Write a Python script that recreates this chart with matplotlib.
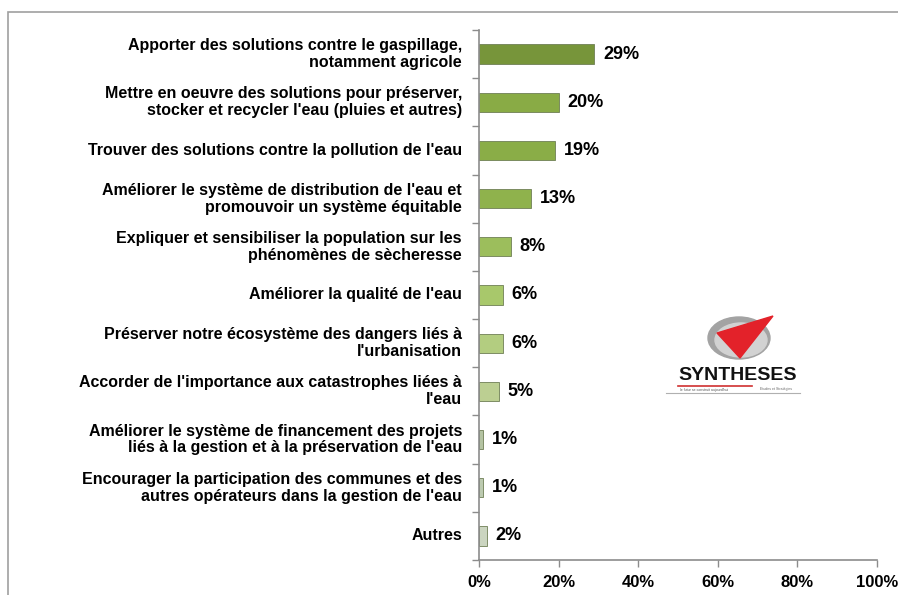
import numpy as np
import matplotlib.pyplot as plt
from matplotlib.patches import Rectangle, Ellipse, Polygon

# data
labels = [
    "Apporter des solutions contre le gaspillage,\nnotamment agricole",
    "Mettre en oeuvre des solutions pour préserver,\nstocker et recycler l'eau (pluies et autres)",
    "Trouver des solutions contre la pollution de l'eau",
    "Améliorer le système de distribution de l'eau et\npromouvoir un système équitable",
    "Expliquer et sensibiliser la population sur les\nphénomènes de sècheresse",
    "Améliorer la qualité de l'eau",
    "Préserver notre écosystème des dangers liés à\nl'urbanisation",
    "Accorder de l'importance aux catastrophes liées à\nl'eau",
    "Améliorer le système de financement des projets\nliés à la gestion et à la préservation de l'eau",
    "Encourager la participation des communes et des\nautres opérateurs dans la gestion de l'eau",
    "Autres",
]
values = [29, 20, 19, 13, 8, 6, 6, 5, 1, 1, 2]
colors = ["#77953a", "#89ab45", "#8aad47", "#8fb24c", "#9cbe5c", "#a8c86b",
          "#b3cd80", "#bccf92", "#b4c3a2", "#bccab0", "#cbd5c0"]
xticks = [0, 20, 40, 60, 80, 100]

plt.rcParams['font.family'] = ['Liberation Sans', 'DejaVu Sans']

fig = plt.figure(figsize=(8.98, 5.95), dpi=100)
ax = fig.add_axes([479/898, 1-560/595, 398/898, 530/595])

y = np.arange(len(values))
ax.barh(y, values, height=0.4, color=colors, edgecolor="#6f7f55", linewidth=0.6)
for yi, v in zip(y, values):
    ax.text(v + 2.2, yi, f"{v}%", va="center", ha="left", fontsize=13,
            fontweight="bold")

ax.set_ylim(len(values) - 0.5, -0.5)
ax.set_xlim(0, 100)
ax.set_xticks(xticks)
ax.set_xticklabels([f"{t}%" for t in xticks], fontsize=12, fontweight="bold")
ax.set_yticks(np.arange(len(values) + 1) - 0.5)
ax.set_yticklabels([])
ax.tick_params(axis="y", length=5, width=1, color="#8c8c8c", direction="out")
ax.tick_params(axis="x", length=5, width=1, color="#8c8c8c", direction="out", pad=6)
for s in ["top", "right"]:
    ax.spines[s].set_visible(False)
for s in ["left", "bottom"]:
    ax.spines[s].set_color("#8c8c8c")
    ax.spines[s].set_linewidth(1.2)

for yi, lab in zip(y, labels):
    ax.text(-4.3, yi, lab, ha="right", va="center", fontsize=11.5,
            fontweight="bold", linespacing=1.15, clip_on=False)

# outer frame
fig.add_artist(Rectangle((8/898, -0.1), 1.2, 1 - 12/595 + 0.1,
                         transform=fig.transFigure, fill=False,
                         edgecolor="#a0a0a0", linewidth=1.2))

# logo
lax = fig.add_axes([660/898, 1-400/595, 150/898, 100/595])
lax.set_xlim(660, 810)
lax.set_ylim(400, 300)
lax.axis("off")
lax.add_patch(Ellipse((739, 338), 62, 42, color="#a3a3a3"))
lax.add_patch(Ellipse((741, 340), 52, 34, color="#d2d2d2"))
lax.add_patch(Polygon([(717, 333), (773, 316), (740, 358)], color="#e3222a"))
lax.text(738, 376, "SYNTHESES", ha="center", va="center", fontsize=14,
         fontweight="bold", color="#111111")
lax.plot([678, 752], [386, 386], color="#d03030", lw=1.2)
lax.text(760, 389, "Etudes et Stratégies", fontsize=2.5, color="#666666", va="center")
lax.text(680, 389.5, "le futur se construit aujourd'hui", fontsize=2.5,
         color="#555555", va="center")
lax.plot([666, 800], [393, 393], color="#b0b0b0", lw=0.8)

fig.savefig("out.png", dpi=100)
